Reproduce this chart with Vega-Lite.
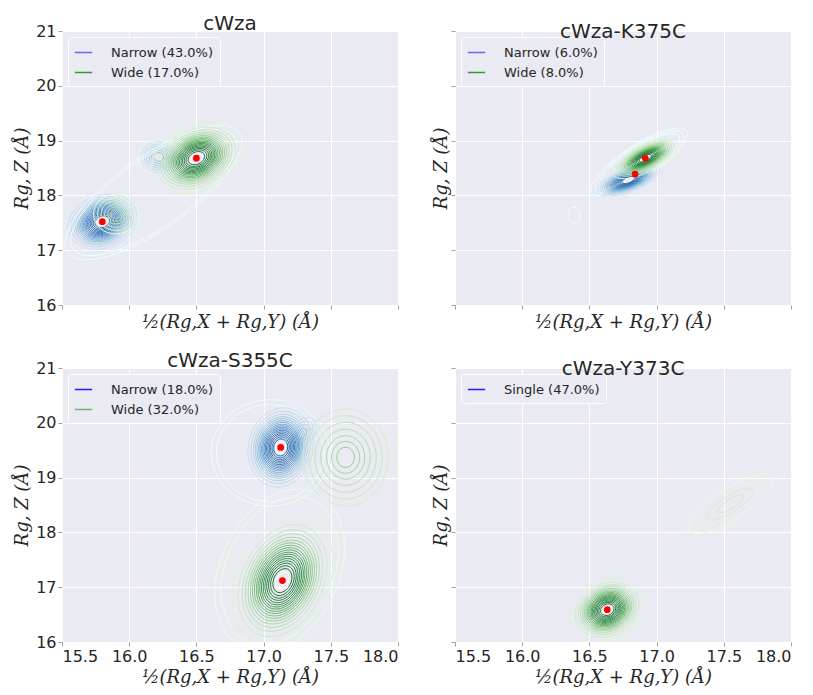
{
"$schema": "https://vega.github.io/schema/vega-lite/v6.json",
"background": "white",
"padding": {"left": 13, "top": 13, "right": 0, "bottom": 0},
"config": {
 "view": {"fill": "#eaeaf2", "stroke": "#bdbdbd", "strokeWidth": 1},
 "axis": {"domain": false, "grid": true, "gridColor": "#ffffff", "gridWidth": 1, "tickColor": "#a0a0a0", "tickSize": 4, "labelFont": "DejaVu Sans", "labelFontSize": 16, "labelColor": "#262626", "labelPadding": 2, "titleFont": "DejaVu Serif", "titleFontStyle": "italic", "titleFontWeight": "normal", "titleFontSize": 18, "titleColor": "#262626", "titlePadding": 4},
 "title": {"font": "DejaVu Sans", "fontSize": 20, "fontWeight": "normal", "color": "#262626", "offset": -11},
 "legend": {"title": null, "orient": "top-left", "offset": 6, "padding": 6, "fillColor": "#eaeaf2", "strokeColor": "#ffffff", "cornerRadius": 3, "symbolType": "stroke", "symbolSize": 300, "symbolStrokeWidth": 1.5, "labelFont": "DejaVu Sans", "labelFontSize": 13, "labelColor": "#262626", "labelOffset": 18, "rowPadding": 3}
},
"datasets": {
 "rings": [
  {"p":"A","s":"N","b":"S1","x":15.8,"y":17.52,"w":0.300,"l":0.05},
  {"p":"A","s":"N","b":"S1","x":15.8,"y":17.52,"w":0.263,"l":0.10},
  {"p":"A","s":"N","b":"S1","x":15.8,"y":17.52,"w":0.239,"l":0.15},
  {"p":"A","s":"N","b":"S1","x":15.8,"y":17.52,"w":0.220,"l":0.20},
  {"p":"A","s":"N","b":"S1","x":15.8,"y":17.52,"w":0.204,"l":0.25},
  {"p":"A","s":"N","b":"S1","x":15.8,"y":17.52,"w":0.190,"l":0.30},
  {"p":"A","s":"N","b":"S1","x":15.8,"y":17.52,"w":0.178,"l":0.35},
  {"p":"A","s":"N","b":"S1","x":15.8,"y":17.52,"w":0.166,"l":0.40},
  {"p":"A","s":"N","b":"S1","x":15.8,"y":17.52,"w":0.155,"l":0.45},
  {"p":"A","s":"N","b":"S1","x":15.8,"y":17.52,"w":0.144,"l":0.50},
  {"p":"A","s":"N","b":"S1","x":15.8,"y":17.52,"w":0.134,"l":0.55},
  {"p":"A","s":"N","b":"S1","x":15.8,"y":17.52,"w":0.124,"l":0.60},
  {"p":"A","s":"N","b":"S1","x":15.8,"y":17.52,"w":0.114,"l":0.65},
  {"p":"A","s":"N","b":"S1","x":15.8,"y":17.52,"w":0.104,"l":0.70},
  {"p":"A","s":"N","b":"S1","x":15.8,"y":17.52,"w":0.093,"l":0.75},
  {"p":"A","s":"N","b":"S1","x":15.8,"y":17.52,"w":0.082,"l":0.80},
  {"p":"A","s":"N","b":"S1","x":15.8,"y":17.52,"w":0.070,"l":0.85},
  {"p":"A","s":"N","b":"S1","x":15.8,"y":17.52,"w":0.056,"l":0.90},
  {"p":"A","s":"N","b":"S1","x":15.8,"y":17.52,"w":0.039,"l":0.95},
  {"p":"A","s":"N","b":"S2","x":16.22,"y":18.70,"w":0.150,"l":0.03},
  {"p":"A","s":"N","b":"S2","x":16.22,"y":18.70,"w":0.128,"l":0.08},
  {"p":"A","s":"N","b":"S2","x":16.22,"y":18.70,"w":0.108,"l":0.13},
  {"p":"A","s":"N","b":"S2","x":16.22,"y":18.70,"w":0.090,"l":0.18},
  {"p":"A","s":"N","b":"S2","x":16.22,"y":18.70,"w":0.072,"l":0.23},
  {"p":"A","s":"N","b":"S2","x":16.22,"y":18.70,"w":0.054,"l":0.28},
  {"p":"A","s":"N","b":"S2","x":16.22,"y":18.70,"w":0.036,"l":0.33},
  {"p":"A","s":"N","b":"S4","x":16.18,"y":18.05,"w":0.78,"l":0},
  {"p":"A","s":"N","b":"S4","x":16.18,"y":18.05,"w":0.73,"l":0},
  {"p":"A","s":"W","b":"S3","x":16.5,"y":18.68,"w":0.350,"l":0.05},
  {"p":"A","s":"W","b":"S3","x":16.5,"y":18.68,"w":0.307,"l":0.10},
  {"p":"A","s":"W","b":"S3","x":16.5,"y":18.68,"w":0.279,"l":0.15},
  {"p":"A","s":"W","b":"S3","x":16.5,"y":18.68,"w":0.257,"l":0.20},
  {"p":"A","s":"W","b":"S3","x":16.5,"y":18.68,"w":0.238,"l":0.25},
  {"p":"A","s":"W","b":"S3","x":16.5,"y":18.68,"w":0.222,"l":0.30},
  {"p":"A","s":"W","b":"S3","x":16.5,"y":18.68,"w":0.207,"l":0.35},
  {"p":"A","s":"W","b":"S3","x":16.5,"y":18.68,"w":0.194,"l":0.40},
  {"p":"A","s":"W","b":"S3","x":16.5,"y":18.68,"w":0.181,"l":0.45},
  {"p":"A","s":"W","b":"S3","x":16.5,"y":18.68,"w":0.168,"l":0.50},
  {"p":"A","s":"W","b":"S3","x":16.5,"y":18.68,"w":0.156,"l":0.55},
  {"p":"A","s":"W","b":"S3","x":16.5,"y":18.68,"w":0.145,"l":0.60},
  {"p":"A","s":"W","b":"S3","x":16.5,"y":18.68,"w":0.133,"l":0.65},
  {"p":"A","s":"W","b":"S3","x":16.5,"y":18.68,"w":0.121,"l":0.70},
  {"p":"A","s":"W","b":"S3","x":16.5,"y":18.68,"w":0.109,"l":0.75},
  {"p":"A","s":"W","b":"S3","x":16.5,"y":18.68,"w":0.096,"l":0.80},
  {"p":"A","s":"W","b":"S3","x":16.5,"y":18.68,"w":0.082,"l":0.85},
  {"p":"A","s":"W","b":"S3","x":16.5,"y":18.68,"w":0.065,"l":0.90},
  {"p":"A","s":"W","b":"S3","x":16.5,"y":18.68,"w":0.046,"l":0.95},
  {"p":"A","s":"W","b":"S2","x":15.9,"y":17.66,"w":0.165,"l":0.03},
  {"p":"A","s":"W","b":"S2","x":15.9,"y":17.66,"w":0.135,"l":0.06},
  {"p":"A","s":"W","b":"S2","x":15.9,"y":17.66,"w":0.109,"l":0.10},
  {"p":"A","s":"W","b":"S2","x":15.9,"y":17.66,"w":0.083,"l":0.14},
  {"p":"A","s":"W","b":"S2","x":15.9,"y":17.66,"w":0.059,"l":0.18},
  {"p":"A","s":"W","b":"S2","x":15.9,"y":17.66,"w":0.036,"l":0.22},

  {"p":"B","s":"N","b":"S7","x":16.87,"y":18.61,"w":0.42,"l":0},
  {"p":"B","s":"N","b":"S7","x":16.87,"y":18.61,"w":0.385,"l":0},
  {"p":"B","s":"N","b":"S7","x":16.87,"y":18.61,"w":0.35,"l":0},
  {"p":"B","s":"N","b":"S8","x":16.385,"y":17.64,"w":0.06,"l":0},
  {"p":"B","s":"N","b":"S6","x":16.79,"y":18.28,"w":0.280,"l":0.05},
  {"p":"B","s":"N","b":"S6","x":16.79,"y":18.28,"w":0.246,"l":0.10},
  {"p":"B","s":"N","b":"S6","x":16.79,"y":18.28,"w":0.223,"l":0.15},
  {"p":"B","s":"N","b":"S6","x":16.79,"y":18.28,"w":0.205,"l":0.20},
  {"p":"B","s":"N","b":"S6","x":16.79,"y":18.28,"w":0.190,"l":0.25},
  {"p":"B","s":"N","b":"S6","x":16.79,"y":18.28,"w":0.178,"l":0.30},
  {"p":"B","s":"N","b":"S6","x":16.79,"y":18.28,"w":0.166,"l":0.35},
  {"p":"B","s":"N","b":"S6","x":16.79,"y":18.28,"w":0.155,"l":0.40},
  {"p":"B","s":"N","b":"S6","x":16.79,"y":18.28,"w":0.144,"l":0.45},
  {"p":"B","s":"N","b":"S6","x":16.79,"y":18.28,"w":0.135,"l":0.50},
  {"p":"B","s":"N","b":"S6","x":16.79,"y":18.28,"w":0.125,"l":0.55},
  {"p":"B","s":"N","b":"S6","x":16.79,"y":18.28,"w":0.116,"l":0.60},
  {"p":"B","s":"N","b":"S6","x":16.79,"y":18.28,"w":0.106,"l":0.65},
  {"p":"B","s":"N","b":"S6","x":16.79,"y":18.28,"w":0.097,"l":0.70},
  {"p":"B","s":"N","b":"S6","x":16.79,"y":18.28,"w":0.087,"l":0.75},
  {"p":"B","s":"N","b":"S6","x":16.79,"y":18.28,"w":0.076,"l":0.80},
  {"p":"B","s":"N","b":"S6","x":16.79,"y":18.28,"w":0.065,"l":0.85},
  {"p":"B","s":"N","b":"S6","x":16.79,"y":18.28,"w":0.052,"l":0.90},
  {"p":"B","s":"N","b":"S6","x":16.79,"y":18.28,"w":0.037,"l":0.95},
  {"p":"B","s":"W","b":"S5","x":16.916,"y":18.68,"w":0.270,"l":0.05},
  {"p":"B","s":"W","b":"S5","x":16.916,"y":18.68,"w":0.237,"l":0.10},
  {"p":"B","s":"W","b":"S5","x":16.916,"y":18.68,"w":0.215,"l":0.15},
  {"p":"B","s":"W","b":"S5","x":16.916,"y":18.68,"w":0.198,"l":0.20},
  {"p":"B","s":"W","b":"S5","x":16.916,"y":18.68,"w":0.184,"l":0.25},
  {"p":"B","s":"W","b":"S5","x":16.916,"y":18.68,"w":0.171,"l":0.30},
  {"p":"B","s":"W","b":"S5","x":16.916,"y":18.68,"w":0.160,"l":0.35},
  {"p":"B","s":"W","b":"S5","x":16.916,"y":18.68,"w":0.149,"l":0.40},
  {"p":"B","s":"W","b":"S5","x":16.916,"y":18.68,"w":0.139,"l":0.45},
  {"p":"B","s":"W","b":"S5","x":16.916,"y":18.68,"w":0.130,"l":0.50},
  {"p":"B","s":"W","b":"S5","x":16.916,"y":18.68,"w":0.120,"l":0.55},
  {"p":"B","s":"W","b":"S5","x":16.916,"y":18.68,"w":0.112,"l":0.60},
  {"p":"B","s":"W","b":"S5","x":16.916,"y":18.68,"w":0.102,"l":0.65},
  {"p":"B","s":"W","b":"S5","x":16.916,"y":18.68,"w":0.093,"l":0.70},
  {"p":"B","s":"W","b":"S5","x":16.916,"y":18.68,"w":0.084,"l":0.75},
  {"p":"B","s":"W","b":"S5","x":16.916,"y":18.68,"w":0.074,"l":0.80},
  {"p":"B","s":"W","b":"S5","x":16.916,"y":18.68,"w":0.063,"l":0.85},
  {"p":"B","s":"W","b":"S5","x":16.916,"y":18.68,"w":0.050,"l":0.90},
  {"p":"B","s":"W","b":"S5","x":16.916,"y":18.68,"w":0.035,"l":0.95},

  {"p":"C","s":"N","b":"S2","x":17.05,"y":19.45,"w":0.44,"l":0},
  {"p":"C","s":"N","b":"S2","x":17.05,"y":19.45,"w":0.40,"l":0},
  {"p":"C","s":"N","b":"S12","x":17.28,"y":19.8,"w":0.170,"l":0.05},
  {"p":"C","s":"N","b":"S12","x":17.28,"y":19.8,"w":0.140,"l":0.10},
  {"p":"C","s":"N","b":"S12","x":17.28,"y":19.8,"w":0.110,"l":0.15},
  {"p":"C","s":"N","b":"S12","x":17.28,"y":19.8,"w":0.080,"l":0.20},
  {"p":"C","s":"N","b":"S12","x":17.28,"y":19.8,"w":0.050,"l":0.25},
  {"p":"C","s":"N","b":"S9","x":17.127,"y":19.55,"w":0.340,"l":0.05},
  {"p":"C","s":"N","b":"S9","x":17.127,"y":19.55,"w":0.298,"l":0.10},
  {"p":"C","s":"N","b":"S9","x":17.127,"y":19.55,"w":0.271,"l":0.15},
  {"p":"C","s":"N","b":"S9","x":17.127,"y":19.55,"w":0.249,"l":0.20},
  {"p":"C","s":"N","b":"S9","x":17.127,"y":19.55,"w":0.231,"l":0.25},
  {"p":"C","s":"N","b":"S9","x":17.127,"y":19.55,"w":0.216,"l":0.30},
  {"p":"C","s":"N","b":"S9","x":17.127,"y":19.55,"w":0.201,"l":0.35},
  {"p":"C","s":"N","b":"S9","x":17.127,"y":19.55,"w":0.188,"l":0.40},
  {"p":"C","s":"N","b":"S9","x":17.127,"y":19.55,"w":0.175,"l":0.45},
  {"p":"C","s":"N","b":"S9","x":17.127,"y":19.55,"w":0.164,"l":0.50},
  {"p":"C","s":"N","b":"S9","x":17.127,"y":19.55,"w":0.152,"l":0.55},
  {"p":"C","s":"N","b":"S9","x":17.127,"y":19.55,"w":0.140,"l":0.60},
  {"p":"C","s":"N","b":"S9","x":17.127,"y":19.55,"w":0.129,"l":0.65},
  {"p":"C","s":"N","b":"S9","x":17.127,"y":19.55,"w":0.117,"l":0.70},
  {"p":"C","s":"N","b":"S9","x":17.127,"y":19.55,"w":0.105,"l":0.75},
  {"p":"C","s":"N","b":"S9","x":17.127,"y":19.55,"w":0.093,"l":0.80},
  {"p":"C","s":"N","b":"S9","x":17.127,"y":19.55,"w":0.079,"l":0.85},
  {"p":"C","s":"N","b":"S9","x":17.127,"y":19.55,"w":0.064,"l":0.90},
  {"p":"C","s":"N","b":"S9","x":17.127,"y":19.55,"w":0.045,"l":0.95},
  {"p":"C","s":"W","b":"S10","x":17.12,"y":17.3,"w":0.64,"l":0},
  {"p":"C","s":"W","b":"S10","x":17.12,"y":17.3,"w":0.58,"l":0},
  {"p":"C","s":"W","b":"S11","x":17.61,"y":19.37,"w":0.360,"l":0.08},
  {"p":"C","s":"W","b":"S11","x":17.61,"y":19.37,"w":0.310,"l":0.12},
  {"p":"C","s":"W","b":"S11","x":17.61,"y":19.37,"w":0.260,"l":0.16},
  {"p":"C","s":"W","b":"S11","x":17.61,"y":19.37,"w":0.209,"l":0.20},
  {"p":"C","s":"W","b":"S11","x":17.61,"y":19.37,"w":0.162,"l":0.24},
  {"p":"C","s":"W","b":"S11","x":17.61,"y":19.37,"w":0.119,"l":0.28},
  {"p":"C","s":"W","b":"S11","x":17.61,"y":19.37,"w":0.075,"l":0.32},
  {"p":"C","s":"W","b":"S10","x":17.14,"y":17.12,"w":0.500,"l":0.05},
  {"p":"C","s":"W","b":"S10","x":17.14,"y":17.12,"w":0.439,"l":0.10},
  {"p":"C","s":"W","b":"S10","x":17.14,"y":17.12,"w":0.398,"l":0.15},
  {"p":"C","s":"W","b":"S10","x":17.14,"y":17.12,"w":0.367,"l":0.20},
  {"p":"C","s":"W","b":"S10","x":17.14,"y":17.12,"w":0.340,"l":0.25},
  {"p":"C","s":"W","b":"S10","x":17.14,"y":17.12,"w":0.317,"l":0.30},
  {"p":"C","s":"W","b":"S10","x":17.14,"y":17.12,"w":0.296,"l":0.35},
  {"p":"C","s":"W","b":"S10","x":17.14,"y":17.12,"w":0.277,"l":0.40},
  {"p":"C","s":"W","b":"S10","x":17.14,"y":17.12,"w":0.258,"l":0.45},
  {"p":"C","s":"W","b":"S10","x":17.14,"y":17.12,"w":0.241,"l":0.50},
  {"p":"C","s":"W","b":"S10","x":17.14,"y":17.12,"w":0.223,"l":0.55},
  {"p":"C","s":"W","b":"S10","x":17.14,"y":17.12,"w":0.207,"l":0.60},
  {"p":"C","s":"W","b":"S10","x":17.14,"y":17.12,"w":0.190,"l":0.65},
  {"p":"C","s":"W","b":"S10","x":17.14,"y":17.12,"w":0.173,"l":0.70},
  {"p":"C","s":"W","b":"S10","x":17.14,"y":17.12,"w":0.155,"l":0.75},
  {"p":"C","s":"W","b":"S10","x":17.14,"y":17.12,"w":0.137,"l":0.80},
  {"p":"C","s":"W","b":"S10","x":17.14,"y":17.12,"w":0.117,"l":0.85},
  {"p":"C","s":"W","b":"S10","x":17.14,"y":17.12,"w":0.094,"l":0.90},
  {"p":"C","s":"W","b":"S10","x":17.14,"y":17.12,"w":0.066,"l":0.95},

  {"p":"D","s":"W","b":"S7","x":17.55,"y":18.52,"w":0.37,"l":0.02},
  {"p":"D","s":"W","b":"S7","x":17.55,"y":18.52,"w":0.30,"l":0.05},
  {"p":"D","s":"W","b":"S7","x":17.55,"y":18.52,"w":0.20,"l":0.08},
  {"p":"D","s":"W","b":"S7","x":17.55,"y":18.52,"w":0.11,"l":0.11},
  {"p":"D","s":"W","b":"S13","x":16.633,"y":16.59,"w":0.280,"l":0.05},
  {"p":"D","s":"W","b":"S13","x":16.633,"y":16.59,"w":0.246,"l":0.10},
  {"p":"D","s":"W","b":"S13","x":16.633,"y":16.59,"w":0.223,"l":0.15},
  {"p":"D","s":"W","b":"S13","x":16.633,"y":16.59,"w":0.205,"l":0.20},
  {"p":"D","s":"W","b":"S13","x":16.633,"y":16.59,"w":0.190,"l":0.25},
  {"p":"D","s":"W","b":"S13","x":16.633,"y":16.59,"w":0.178,"l":0.30},
  {"p":"D","s":"W","b":"S13","x":16.633,"y":16.59,"w":0.166,"l":0.35},
  {"p":"D","s":"W","b":"S13","x":16.633,"y":16.59,"w":0.155,"l":0.40},
  {"p":"D","s":"W","b":"S13","x":16.633,"y":16.59,"w":0.144,"l":0.45},
  {"p":"D","s":"W","b":"S13","x":16.633,"y":16.59,"w":0.135,"l":0.50},
  {"p":"D","s":"W","b":"S13","x":16.633,"y":16.59,"w":0.125,"l":0.55},
  {"p":"D","s":"W","b":"S13","x":16.633,"y":16.59,"w":0.116,"l":0.60},
  {"p":"D","s":"W","b":"S13","x":16.633,"y":16.59,"w":0.106,"l":0.65},
  {"p":"D","s":"W","b":"S13","x":16.633,"y":16.59,"w":0.097,"l":0.70},
  {"p":"D","s":"W","b":"S13","x":16.633,"y":16.59,"w":0.087,"l":0.75},
  {"p":"D","s":"W","b":"S13","x":16.633,"y":16.59,"w":0.076,"l":0.80},
  {"p":"D","s":"W","b":"S13","x":16.633,"y":16.59,"w":0.065,"l":0.85},
  {"p":"D","s":"W","b":"S13","x":16.633,"y":16.59,"w":0.052,"l":0.90},
  {"p":"D","s":"W","b":"S13","x":16.633,"y":16.59,"w":0.037,"l":0.95}
 ],
 "centers": [
  {"p":"A","label":"Narrow (43.0%)","x":15.8,"y":17.52},
  {"p":"A","label":"Wide (17.0%)","x":16.5,"y":18.68},
  {"p":"B","label":"Narrow (6.0%)","x":16.84,"y":18.39},
  {"p":"B","label":"Wide (8.0%)","x":16.916,"y":18.68},
  {"p":"C","label":"Narrow (18.0%)","x":17.127,"y":19.55},
  {"p":"C","label":"Wide (32.0%)","x":17.14,"y":17.12},
  {"p":"D","label":"Single (47.0%)","x":16.633,"y":16.59}
 ]
},
"spacing": 18,
"resolve": {"scale": {"color": "independent", "stroke": "independent", "x": "independent", "y": "independent", "size": "independent", "shape": "independent"}, "legend": {"stroke": "independent", "color": "independent"}},
"vconcat": [
 {"hconcat": [
  {"width": 336, "height": 274, "title": "cWza",
   "layer": [
    {"data": {"name": "rings"}, "transform": [{"filter": "datum.p === 'A' && datum.s === 'N'"}],
     "mark": {"type": "point", "filled": false, "opacity": 1, "strokeWidth": 1, "clip": true},
     "encoding": {
      "x": {"field": "x", "type": "quantitative", "scale": {"domain": [15.5, 18]}, "axis": {"values": [15.5,16,16.5,17,17.5,18], "labels": false}, "title": "½(Rg,X + Rg,Y) (Å)"},
      "y": {"field": "y", "type": "quantitative", "scale": {"domain": [16, 21]}, "axis": {"values": [16,17,18,19,20,21], "format": "d"}, "title": "Rg, Z (Å)"},
      "size": {"field": "w", "type": "quantitative", "scale": {"type": "pow", "exponent": 2, "domain": [0, 1], "range": [0, 72253]}, "legend": null},
      "shape": {"field": "b", "type": "nominal", "scale": {"domain": ["S1","S2","S3","S4","S5","S6","S7","S8","S9","S10","S11","S12","S13"], "range": ["M0.94 -0.342A1 0.75 -20 0 1 -0.94 0.342A1 0.75 -20 0 1 0.94 -0.342Z","M1 0A1 0.9 0 0 1 -1 0A1 0.9 0 0 1 1 0Z","M0.906 -0.423A1 0.7 -25 0 1 -0.906 0.423A1 0.7 -25 0 1 0.906 -0.423Z","M0.819 -0.574A1 0.35 -35 0 1 -0.819 0.574A1 0.35 -35 0 1 0.819 -0.574Z","M0.891 -0.454A1 0.38 -27 0 1 -0.891 0.454A1 0.38 -27 0 1 0.891 -0.454Z","M0.934 -0.358A1 0.35 -21 0 1 -0.934 0.358A1 0.35 -21 0 1 0.934 -0.358Z","M0.839 -0.545A1 0.3 -33 0 1 -0.839 0.545A1 0.3 -33 0 1 0.839 -0.545Z","M0 -1A1 0.75 -90 0 1 0 1A1 0.75 -90 0 1 0 -1Z","M0.208 -0.978A1 0.82 -78 0 1 -0.208 0.978A1 0.82 -78 0 1 0.208 -0.978Z","M0.423 -0.906A1 0.7 -65 0 1 -0.423 0.906A1 0.7 -65 0 1 0.423 -0.906Z","M0 -1A1 0.88 -90 0 1 0 1A1 0.88 -90 0 1 0 -1Z","M0.643 -0.766A1 0.6 -50 0 1 -0.643 0.766A1 0.6 -50 0 1 0.643 -0.766Z","M0.906 -0.423A1 0.8 -25 0 1 -0.906 0.423A1 0.8 -25 0 1 0.906 -0.423Z"]}, "legend": null},
      "color": {"field": "l", "type": "quantitative", "scale": {"domain": [0, 0.08, 0.3, 0.6, 0.9, 0.95, 1], "range": ["#ffffff", "#d0e2f3", "#94c4df", "#4a89c5", "#1f5fa5", "#ffffff", "#ffffff"]}, "legend": null}
     }},
    {"data": {"name": "rings"}, "transform": [{"filter": "datum.p === 'A' && datum.s === 'W'"}],
     "mark": {"type": "point", "filled": false, "opacity": 1, "strokeWidth": 1, "clip": true},
     "encoding": {
      "x": {"field": "x", "type": "quantitative", "scale": {"domain": [15.5, 18]}, "axis": {"values": [15.5,16,16.5,17,17.5,18], "labels": false}, "title": "½(Rg,X + Rg,Y) (Å)"},
      "y": {"field": "y", "type": "quantitative", "scale": {"domain": [16, 21]}, "axis": {"values": [16,17,18,19,20,21], "format": "d"}, "title": "Rg, Z (Å)"},
      "size": {"field": "w", "type": "quantitative", "scale": {"type": "pow", "exponent": 2, "domain": [0, 1], "range": [0, 72253]}, "legend": null},
      "shape": {"field": "b", "type": "nominal", "scale": {"domain": ["S1","S2","S3","S4","S5","S6","S7","S8","S9","S10","S11","S12","S13"], "range": ["M0.94 -0.342A1 0.75 -20 0 1 -0.94 0.342A1 0.75 -20 0 1 0.94 -0.342Z","M1 0A1 0.9 0 0 1 -1 0A1 0.9 0 0 1 1 0Z","M0.906 -0.423A1 0.7 -25 0 1 -0.906 0.423A1 0.7 -25 0 1 0.906 -0.423Z","M0.819 -0.574A1 0.35 -35 0 1 -0.819 0.574A1 0.35 -35 0 1 0.819 -0.574Z","M0.891 -0.454A1 0.38 -27 0 1 -0.891 0.454A1 0.38 -27 0 1 0.891 -0.454Z","M0.934 -0.358A1 0.35 -21 0 1 -0.934 0.358A1 0.35 -21 0 1 0.934 -0.358Z","M0.839 -0.545A1 0.3 -33 0 1 -0.839 0.545A1 0.3 -33 0 1 0.839 -0.545Z","M0 -1A1 0.75 -90 0 1 0 1A1 0.75 -90 0 1 0 -1Z","M0.208 -0.978A1 0.82 -78 0 1 -0.208 0.978A1 0.82 -78 0 1 0.208 -0.978Z","M0.423 -0.906A1 0.7 -65 0 1 -0.423 0.906A1 0.7 -65 0 1 0.423 -0.906Z","M0 -1A1 0.88 -90 0 1 0 1A1 0.88 -90 0 1 0 -1Z","M0.643 -0.766A1 0.6 -50 0 1 -0.643 0.766A1 0.6 -50 0 1 0.643 -0.766Z","M0.906 -0.423A1 0.8 -25 0 1 -0.906 0.423A1 0.8 -25 0 1 0.906 -0.423Z"]}, "legend": null},
      "color": {"field": "l", "type": "quantitative", "scale": {"domain": [0, 0.08, 0.3, 0.6, 0.9, 0.95, 1], "range": ["#ffffff", "#d3eecc", "#98d494", "#3a9a4a", "#1a6e33", "#ffffff", "#ffffff"]}, "legend": null}
     }},
    {"data": {"name": "centers"}, "transform": [{"filter": "datum.p === 'A'"}],
     "mark": {"type": "point", "filled": true, "fill": "#ff0000", "opacity": 1, "size": 45, "strokeWidth": 0},
     "encoding": {
      "x": {"field": "x", "type": "quantitative", "scale": {"domain": [15.5, 18]}, "axis": {"values": [15.5,16,16.5,17,17.5,18], "labels": false}, "title": "½(Rg,X + Rg,Y) (Å)"},
      "y": {"field": "y", "type": "quantitative", "scale": {"domain": [16, 21]}, "axis": {"values": [16,17,18,19,20,21], "format": "d"}, "title": "Rg, Z (Å)"},
      "stroke": {"field": "label", "type": "nominal", "scale": {"domain": ["Narrow (43.0%)", "Wide (17.0%)"], "range": ["#6666ff", "#339933"]}, "legend": {"symbolStrokeWidth": 1.5}}
     }}
   ],
   "resolve": {"scale": {"color": "independent"}}},
  {"width": 336, "height": 274, "title": "cWza-K375C",
   "layer": [
    {"data": {"name": "rings"}, "transform": [{"filter": "datum.p === 'B' && datum.s === 'N'"}],
     "mark": {"type": "point", "filled": false, "opacity": 1, "strokeWidth": 1, "clip": true},
     "encoding": {
      "x": {"field": "x", "type": "quantitative", "scale": {"domain": [15.5, 18]}, "axis": {"values": [15.5,16,16.5,17,17.5,18], "labels": false}, "title": "½(Rg,X + Rg,Y) (Å)"},
      "y": {"field": "y", "type": "quantitative", "scale": {"domain": [16, 21]}, "axis": {"values": [16,17,18,19,20,21], "labels": false, "titlePadding": 0}, "title": "Rg, Z (Å)"},
      "size": {"field": "w", "type": "quantitative", "scale": {"type": "pow", "exponent": 2, "domain": [0, 1], "range": [0, 72253]}, "legend": null},
      "shape": {"field": "b", "type": "nominal", "scale": {"domain": ["S1","S2","S3","S4","S5","S6","S7","S8","S9","S10","S11","S12","S13"], "range": ["M0.94 -0.342A1 0.75 -20 0 1 -0.94 0.342A1 0.75 -20 0 1 0.94 -0.342Z","M1 0A1 0.9 0 0 1 -1 0A1 0.9 0 0 1 1 0Z","M0.906 -0.423A1 0.7 -25 0 1 -0.906 0.423A1 0.7 -25 0 1 0.906 -0.423Z","M0.819 -0.574A1 0.35 -35 0 1 -0.819 0.574A1 0.35 -35 0 1 0.819 -0.574Z","M0.891 -0.454A1 0.38 -27 0 1 -0.891 0.454A1 0.38 -27 0 1 0.891 -0.454Z","M0.934 -0.358A1 0.35 -21 0 1 -0.934 0.358A1 0.35 -21 0 1 0.934 -0.358Z","M0.839 -0.545A1 0.3 -33 0 1 -0.839 0.545A1 0.3 -33 0 1 0.839 -0.545Z","M0 -1A1 0.75 -90 0 1 0 1A1 0.75 -90 0 1 0 -1Z","M0.208 -0.978A1 0.82 -78 0 1 -0.208 0.978A1 0.82 -78 0 1 0.208 -0.978Z","M0.423 -0.906A1 0.7 -65 0 1 -0.423 0.906A1 0.7 -65 0 1 0.423 -0.906Z","M0 -1A1 0.88 -90 0 1 0 1A1 0.88 -90 0 1 0 -1Z","M0.643 -0.766A1 0.6 -50 0 1 -0.643 0.766A1 0.6 -50 0 1 0.643 -0.766Z","M0.906 -0.423A1 0.8 -25 0 1 -0.906 0.423A1 0.8 -25 0 1 0.906 -0.423Z"]}, "legend": null},
      "color": {"field": "l", "type": "quantitative", "scale": {"domain": [0, 0.08, 0.3, 0.6, 0.9, 0.95, 1], "range": ["#ffffff", "#d0e2f3", "#94c4df", "#4a89c5", "#1f5fa5", "#ffffff", "#ffffff"]}, "legend": null}
     }},
    {"data": {"name": "rings"}, "transform": [{"filter": "datum.p === 'B' && datum.s === 'W'"}],
     "mark": {"type": "point", "filled": false, "opacity": 1, "strokeWidth": 1, "clip": true},
     "encoding": {
      "x": {"field": "x", "type": "quantitative", "scale": {"domain": [15.5, 18]}, "axis": {"values": [15.5,16,16.5,17,17.5,18], "labels": false}, "title": "½(Rg,X + Rg,Y) (Å)"},
      "y": {"field": "y", "type": "quantitative", "scale": {"domain": [16, 21]}, "axis": {"values": [16,17,18,19,20,21], "labels": false, "titlePadding": 0}, "title": "Rg, Z (Å)"},
      "size": {"field": "w", "type": "quantitative", "scale": {"type": "pow", "exponent": 2, "domain": [0, 1], "range": [0, 72253]}, "legend": null},
      "shape": {"field": "b", "type": "nominal", "scale": {"domain": ["S1","S2","S3","S4","S5","S6","S7","S8","S9","S10","S11","S12","S13"], "range": ["M0.94 -0.342A1 0.75 -20 0 1 -0.94 0.342A1 0.75 -20 0 1 0.94 -0.342Z","M1 0A1 0.9 0 0 1 -1 0A1 0.9 0 0 1 1 0Z","M0.906 -0.423A1 0.7 -25 0 1 -0.906 0.423A1 0.7 -25 0 1 0.906 -0.423Z","M0.819 -0.574A1 0.35 -35 0 1 -0.819 0.574A1 0.35 -35 0 1 0.819 -0.574Z","M0.891 -0.454A1 0.38 -27 0 1 -0.891 0.454A1 0.38 -27 0 1 0.891 -0.454Z","M0.934 -0.358A1 0.35 -21 0 1 -0.934 0.358A1 0.35 -21 0 1 0.934 -0.358Z","M0.839 -0.545A1 0.3 -33 0 1 -0.839 0.545A1 0.3 -33 0 1 0.839 -0.545Z","M0 -1A1 0.75 -90 0 1 0 1A1 0.75 -90 0 1 0 -1Z","M0.208 -0.978A1 0.82 -78 0 1 -0.208 0.978A1 0.82 -78 0 1 0.208 -0.978Z","M0.423 -0.906A1 0.7 -65 0 1 -0.423 0.906A1 0.7 -65 0 1 0.423 -0.906Z","M0 -1A1 0.88 -90 0 1 0 1A1 0.88 -90 0 1 0 -1Z","M0.643 -0.766A1 0.6 -50 0 1 -0.643 0.766A1 0.6 -50 0 1 0.643 -0.766Z","M0.906 -0.423A1 0.8 -25 0 1 -0.906 0.423A1 0.8 -25 0 1 0.906 -0.423Z"]}, "legend": null},
      "color": {"field": "l", "type": "quantitative", "scale": {"domain": [0, 0.08, 0.3, 0.6, 0.9, 0.95, 1], "range": ["#ffffff", "#d3eecc", "#98d494", "#3a9a4a", "#1a6e33", "#ffffff", "#ffffff"]}, "legend": null}
     }},
    {"data": {"name": "centers"}, "transform": [{"filter": "datum.p === 'B'"}],
     "mark": {"type": "point", "filled": true, "fill": "#ff0000", "opacity": 1, "size": 45, "strokeWidth": 0},
     "encoding": {
      "x": {"field": "x", "type": "quantitative", "scale": {"domain": [15.5, 18]}, "axis": {"values": [15.5,16,16.5,17,17.5,18], "labels": false}, "title": "½(Rg,X + Rg,Y) (Å)"},
      "y": {"field": "y", "type": "quantitative", "scale": {"domain": [16, 21]}, "axis": {"values": [16,17,18,19,20,21], "labels": false, "titlePadding": 0}, "title": "Rg, Z (Å)"},
      "stroke": {"field": "label", "type": "nominal", "scale": {"domain": ["Narrow (6.0%)", "Wide (8.0%)"], "range": ["#6666ff", "#339933"]}, "legend": {"symbolStrokeWidth": 1.5}}
     }}
   ],
   "resolve": {"scale": {"color": "independent"}}}
 ], "spacing": 33,
 "resolve": {"scale": {"color": "independent", "stroke": "independent", "x": "independent", "y": "independent", "size": "independent", "shape": "independent"}, "legend": {"stroke": "independent", "color": "independent"}}},
 {"hconcat": [
  {"width": 336, "height": 274, "title": "cWza-S355C",
   "layer": [
    {"data": {"name": "rings"}, "transform": [{"filter": "datum.p === 'C' && datum.s === 'N'"}],
     "mark": {"type": "point", "filled": false, "opacity": 1, "strokeWidth": 1, "clip": true},
     "encoding": {
      "x": {"field": "x", "type": "quantitative", "scale": {"domain": [15.5, 18]}, "axis": {"values": [15.5,16,16.5,17,17.5,18], "format": ".1f"}, "title": "½(Rg,X + Rg,Y) (Å)"},
      "y": {"field": "y", "type": "quantitative", "scale": {"domain": [16, 21]}, "axis": {"values": [16,17,18,19,20,21], "format": "d"}, "title": "Rg, Z (Å)"},
      "size": {"field": "w", "type": "quantitative", "scale": {"type": "pow", "exponent": 2, "domain": [0, 1], "range": [0, 72253]}, "legend": null},
      "shape": {"field": "b", "type": "nominal", "scale": {"domain": ["S1","S2","S3","S4","S5","S6","S7","S8","S9","S10","S11","S12","S13"], "range": ["M0.94 -0.342A1 0.75 -20 0 1 -0.94 0.342A1 0.75 -20 0 1 0.94 -0.342Z","M1 0A1 0.9 0 0 1 -1 0A1 0.9 0 0 1 1 0Z","M0.906 -0.423A1 0.7 -25 0 1 -0.906 0.423A1 0.7 -25 0 1 0.906 -0.423Z","M0.819 -0.574A1 0.35 -35 0 1 -0.819 0.574A1 0.35 -35 0 1 0.819 -0.574Z","M0.891 -0.454A1 0.38 -27 0 1 -0.891 0.454A1 0.38 -27 0 1 0.891 -0.454Z","M0.934 -0.358A1 0.35 -21 0 1 -0.934 0.358A1 0.35 -21 0 1 0.934 -0.358Z","M0.839 -0.545A1 0.3 -33 0 1 -0.839 0.545A1 0.3 -33 0 1 0.839 -0.545Z","M0 -1A1 0.75 -90 0 1 0 1A1 0.75 -90 0 1 0 -1Z","M0.208 -0.978A1 0.82 -78 0 1 -0.208 0.978A1 0.82 -78 0 1 0.208 -0.978Z","M0.423 -0.906A1 0.7 -65 0 1 -0.423 0.906A1 0.7 -65 0 1 0.423 -0.906Z","M0 -1A1 0.88 -90 0 1 0 1A1 0.88 -90 0 1 0 -1Z","M0.643 -0.766A1 0.6 -50 0 1 -0.643 0.766A1 0.6 -50 0 1 0.643 -0.766Z","M0.906 -0.423A1 0.8 -25 0 1 -0.906 0.423A1 0.8 -25 0 1 0.906 -0.423Z"]}, "legend": null},
      "color": {"field": "l", "type": "quantitative", "scale": {"domain": [0, 0.08, 0.3, 0.6, 0.9, 0.95, 1], "range": ["#ffffff", "#d0e2f3", "#94c4df", "#4a89c5", "#1f5fa5", "#ffffff", "#ffffff"]}, "legend": null}
     }},
    {"data": {"name": "rings"}, "transform": [{"filter": "datum.p === 'C' && datum.s === 'W'"}],
     "mark": {"type": "point", "filled": false, "opacity": 1, "strokeWidth": 1, "clip": true},
     "encoding": {
      "x": {"field": "x", "type": "quantitative", "scale": {"domain": [15.5, 18]}, "axis": {"values": [15.5,16,16.5,17,17.5,18], "format": ".1f"}, "title": "½(Rg,X + Rg,Y) (Å)"},
      "y": {"field": "y", "type": "quantitative", "scale": {"domain": [16, 21]}, "axis": {"values": [16,17,18,19,20,21], "format": "d"}, "title": "Rg, Z (Å)"},
      "size": {"field": "w", "type": "quantitative", "scale": {"type": "pow", "exponent": 2, "domain": [0, 1], "range": [0, 72253]}, "legend": null},
      "shape": {"field": "b", "type": "nominal", "scale": {"domain": ["S1","S2","S3","S4","S5","S6","S7","S8","S9","S10","S11","S12","S13"], "range": ["M0.94 -0.342A1 0.75 -20 0 1 -0.94 0.342A1 0.75 -20 0 1 0.94 -0.342Z","M1 0A1 0.9 0 0 1 -1 0A1 0.9 0 0 1 1 0Z","M0.906 -0.423A1 0.7 -25 0 1 -0.906 0.423A1 0.7 -25 0 1 0.906 -0.423Z","M0.819 -0.574A1 0.35 -35 0 1 -0.819 0.574A1 0.35 -35 0 1 0.819 -0.574Z","M0.891 -0.454A1 0.38 -27 0 1 -0.891 0.454A1 0.38 -27 0 1 0.891 -0.454Z","M0.934 -0.358A1 0.35 -21 0 1 -0.934 0.358A1 0.35 -21 0 1 0.934 -0.358Z","M0.839 -0.545A1 0.3 -33 0 1 -0.839 0.545A1 0.3 -33 0 1 0.839 -0.545Z","M0 -1A1 0.75 -90 0 1 0 1A1 0.75 -90 0 1 0 -1Z","M0.208 -0.978A1 0.82 -78 0 1 -0.208 0.978A1 0.82 -78 0 1 0.208 -0.978Z","M0.423 -0.906A1 0.7 -65 0 1 -0.423 0.906A1 0.7 -65 0 1 0.423 -0.906Z","M0 -1A1 0.88 -90 0 1 0 1A1 0.88 -90 0 1 0 -1Z","M0.643 -0.766A1 0.6 -50 0 1 -0.643 0.766A1 0.6 -50 0 1 0.643 -0.766Z","M0.906 -0.423A1 0.8 -25 0 1 -0.906 0.423A1 0.8 -25 0 1 0.906 -0.423Z"]}, "legend": null},
      "color": {"field": "l", "type": "quantitative", "scale": {"domain": [0, 0.08, 0.3, 0.6, 0.9, 0.95, 1], "range": ["#ffffff", "#d3eecc", "#98d494", "#3a9a4a", "#1a6e33", "#ffffff", "#ffffff"]}, "legend": null}
     }},
    {"data": {"name": "centers"}, "transform": [{"filter": "datum.p === 'C'"}],
     "mark": {"type": "point", "filled": true, "fill": "#ff0000", "opacity": 1, "size": 45, "strokeWidth": 0},
     "encoding": {
      "x": {"field": "x", "type": "quantitative", "scale": {"domain": [15.5, 18]}, "axis": {"values": [15.5,16,16.5,17,17.5,18], "format": ".1f"}, "title": "½(Rg,X + Rg,Y) (Å)"},
      "y": {"field": "y", "type": "quantitative", "scale": {"domain": [16, 21]}, "axis": {"values": [16,17,18,19,20,21], "format": "d"}, "title": "Rg, Z (Å)"},
      "stroke": {"field": "label", "type": "nominal", "scale": {"domain": ["Narrow (18.0%)", "Wide (32.0%)"], "range": ["#2222ee", "#66bb66"]}, "legend": {"symbolStrokeWidth": 1.5}}
     }}
   ],
   "resolve": {"scale": {"color": "independent"}}},
  {"width": 336, "height": 274, "title": "cWza-Y373C",
   "layer": [
    {"data": {"name": "rings"}, "transform": [{"filter": "datum.p === 'D' && datum.s === 'W'"}],
     "mark": {"type": "point", "filled": false, "opacity": 1, "strokeWidth": 1, "clip": true},
     "encoding": {
      "x": {"field": "x", "type": "quantitative", "scale": {"domain": [15.5, 18]}, "axis": {"values": [15.5,16,16.5,17,17.5,18], "format": ".1f"}, "title": "½(Rg,X + Rg,Y) (Å)"},
      "y": {"field": "y", "type": "quantitative", "scale": {"domain": [16, 21]}, "axis": {"values": [16,17,18,19,20,21], "labels": false, "titlePadding": 0}, "title": "Rg, Z (Å)"},
      "size": {"field": "w", "type": "quantitative", "scale": {"type": "pow", "exponent": 2, "domain": [0, 1], "range": [0, 72253]}, "legend": null},
      "shape": {"field": "b", "type": "nominal", "scale": {"domain": ["S1","S2","S3","S4","S5","S6","S7","S8","S9","S10","S11","S12","S13"], "range": ["M0.94 -0.342A1 0.75 -20 0 1 -0.94 0.342A1 0.75 -20 0 1 0.94 -0.342Z","M1 0A1 0.9 0 0 1 -1 0A1 0.9 0 0 1 1 0Z","M0.906 -0.423A1 0.7 -25 0 1 -0.906 0.423A1 0.7 -25 0 1 0.906 -0.423Z","M0.819 -0.574A1 0.35 -35 0 1 -0.819 0.574A1 0.35 -35 0 1 0.819 -0.574Z","M0.891 -0.454A1 0.38 -27 0 1 -0.891 0.454A1 0.38 -27 0 1 0.891 -0.454Z","M0.934 -0.358A1 0.35 -21 0 1 -0.934 0.358A1 0.35 -21 0 1 0.934 -0.358Z","M0.839 -0.545A1 0.3 -33 0 1 -0.839 0.545A1 0.3 -33 0 1 0.839 -0.545Z","M0 -1A1 0.75 -90 0 1 0 1A1 0.75 -90 0 1 0 -1Z","M0.208 -0.978A1 0.82 -78 0 1 -0.208 0.978A1 0.82 -78 0 1 0.208 -0.978Z","M0.423 -0.906A1 0.7 -65 0 1 -0.423 0.906A1 0.7 -65 0 1 0.423 -0.906Z","M0 -1A1 0.88 -90 0 1 0 1A1 0.88 -90 0 1 0 -1Z","M0.643 -0.766A1 0.6 -50 0 1 -0.643 0.766A1 0.6 -50 0 1 0.643 -0.766Z","M0.906 -0.423A1 0.8 -25 0 1 -0.906 0.423A1 0.8 -25 0 1 0.906 -0.423Z"]}, "legend": null},
      "color": {"field": "l", "type": "quantitative", "scale": {"domain": [0, 0.08, 0.3, 0.6, 0.9, 0.95, 1], "range": ["#ffffff", "#d3eecc", "#98d494", "#3a9a4a", "#1a6e33", "#ffffff", "#ffffff"]}, "legend": null}
     }},
    {"data": {"name": "centers"}, "transform": [{"filter": "datum.p === 'D'"}],
     "mark": {"type": "point", "filled": true, "fill": "#ff0000", "opacity": 1, "size": 45, "strokeWidth": 0},
     "encoding": {
      "x": {"field": "x", "type": "quantitative", "scale": {"domain": [15.5, 18]}, "axis": {"values": [15.5,16,16.5,17,17.5,18], "format": ".1f"}, "title": "½(Rg,X + Rg,Y) (Å)"},
      "y": {"field": "y", "type": "quantitative", "scale": {"domain": [16, 21]}, "axis": {"values": [16,17,18,19,20,21], "labels": false, "titlePadding": 0}, "title": "Rg, Z (Å)"},
      "stroke": {"field": "label", "type": "nominal", "scale": {"domain": ["Single (47.0%)"], "range": ["#2222ee"]}, "legend": {"symbolStrokeWidth": 1.5}}
     }}
   ],
   "resolve": {"scale": {"color": "independent"}}}
 ], "spacing": 33,
 "resolve": {"scale": {"color": "independent", "stroke": "independent", "x": "independent", "y": "independent", "size": "independent", "shape": "independent"}, "legend": {"stroke": "independent", "color": "independent"}}}
]
}
